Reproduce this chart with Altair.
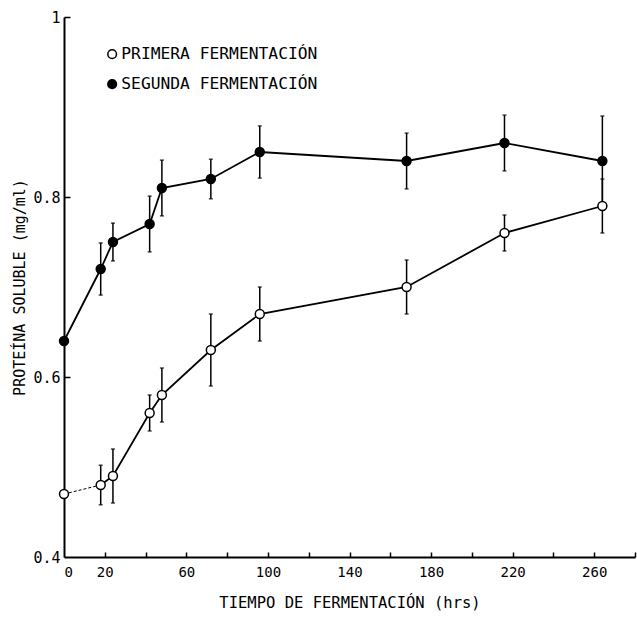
import altair as alt
import pandas as pd

# ---- data ----
tiempo = [0, 18, 24, 42, 48, 72, 96, 168, 216, 264]
primera = [0.47, 0.48, 0.49, 0.56, 0.58, 0.63, 0.67, 0.70, 0.76, 0.79]
primera_err = [0.0, 0.022, 0.03, 0.02, 0.03, 0.04, 0.03, 0.03, 0.02, 0.03]
segunda = [0.64, 0.72, 0.75, 0.77, 0.81, 0.82, 0.85, 0.84, 0.86, 0.84]
segunda_err = [0.0, 0.029, 0.021, 0.031, 0.031, 0.022, 0.029, 0.031, 0.031, 0.05]

series = ["PRIMERA FERMENTACIÓN", "SEGUNDA FERMENTACIÓN"]
x_label_vals = [0, 20, 60, 100, 140, 180, 220, 260]
x_tick_vals = list(range(20, 281, 20))
y_label_vals = [0.4, 0.6, 0.8, 1.0]
y_tick_vals = [0.6, 0.8, 1.0]

rows = []
for t, v, e in zip(tiempo, primera, primera_err):
    rows.append({"t": t, "v": v, "lo": v - e, "hi": v + e, "e": e, "serie": series[0]})
for t, v, e in zip(tiempo, segunda, segunda_err):
    rows.append({"t": t, "v": v, "lo": v - e, "hi": v + e, "e": e, "serie": series[1]})
df = pd.DataFrame(rows)

FONT = "DejaVu Sans Mono"

xscale = alt.Scale(domain=[0, 280], nice=False, zero=False)
yscale = alt.Scale(domain=[0.4, 1.0], nice=False, zero=False)

x_main = alt.X(
    "t:Q", scale=xscale,
    axis=alt.Axis(
        values=x_label_vals, ticks=False, grid=False, domainColor="black", domainWidth=2,
        labelFont=FONT, labelFontSize=14, labelColor="black", labelPadding=8,
        title="TIEMPO DE FERMENTACIÓN (hrs)", titleFont=FONT, titleFontSize=15.5,
        titleFontWeight="normal", titleColor="black", titlePadding=16,
    ),
)
y_main = alt.Y(
    "v:Q", scale=yscale,
    axis=alt.Axis(
        values=y_label_vals, ticks=False, grid=False, domainColor="black", domainWidth=2,
        labelFont=FONT, labelFontSize=15, labelColor="black", labelPadding=4,
        labelExpr="datum.value == 1 ? '1' : format(datum.value, '.1f')",
        title="PROTEÍNA SOLUBLE (mg/ml)", titleFont=FONT, titleFontSize=15,
        titleFontWeight="normal", titleColor="black", titlePadding=5,
    ),
)

x_ticks = alt.X(
    "t:Q", scale=xscale,
    axis=alt.Axis(
        orient="bottom", values=x_tick_vals, offset=-5, domain=False, labels=False,
        ticks=True, tickSize=5, tickColor="black", tickWidth=1.5, grid=False, title=None,
    ),
)
y_ticks = alt.Y(
    "lo:Q", scale=yscale,
    axis=alt.Axis(
        orient="left", values=y_tick_vals, offset=-6, domain=False, labels=False,
        ticks=True, tickSize=6, tickColor="black", tickWidth=1.5, grid=False, title=None,
    ),
)

x_plain = alt.X("t:Q", scale=xscale, axis=None)
y_plain = alt.Y("v:Q", scale=yscale, axis=None)

base = alt.Chart(df)

bars = base.transform_filter("datum.e > 0").mark_rule(color="black", strokeWidth=1.5).encode(
    x=x_ticks, y=y_ticks, y2="hi:Q"
)
cap_lo = base.transform_filter("datum.e > 0").mark_tick(
    color="black", thickness=1.5, size=4, orient="horizontal"
).encode(x=x_plain, y=alt.Y("lo:Q", scale=yscale, axis=None))
cap_hi = base.transform_filter("datum.e > 0").mark_tick(
    color="black", thickness=1.5, size=4, orient="horizontal"
).encode(x=x_plain, y=alt.Y("hi:Q", scale=yscale, axis=None))

line_solid = base.transform_filter(
    f"!(datum.serie == '{series[0]}' && datum.t == 0)"
).mark_line(color="black", strokeWidth=1.8).encode(
    x=x_main, y=y_main, detail="serie:N", order="t:Q"
)
line_dash = base.transform_filter(
    f"datum.serie == '{series[0]}' && datum.t <= 18"
).mark_line(color="black", strokeWidth=1, strokeDash=[3, 2]).encode(
    x=x_plain, y=y_plain, order="t:Q"
)

points = base.mark_point(
    filled=True, stroke="black", strokeWidth=1.5, size=80, opacity=1
).encode(
    x=x_plain, y=y_plain,
    fill=alt.Fill(
        "serie:N",
        scale=alt.Scale(domain=series, range=["white", "black"]),
        legend=alt.Legend(
            title=None, orient="none", legendX=40, legendY=29, padding=0,
            symbolType="circle", symbolSize=75, symbolStrokeColor="black",
            symbolStrokeWidth=1.5, labelFont=FONT, labelFontSize=16.3,
            labelColor="black", labelOffset=1, rowPadding=13, labelLimit=400,
        ),
    ),
)

chart = alt.layer(line_solid, bars, cap_lo, cap_hi, line_dash, points).resolve_axis(
    x="independent", y="independent"
).properties(
    width=571, height=540,
    autosize=alt.AutoSizeParams(type="none"),
    padding={"left": 64, "top": 17, "right": 2, "bottom": 64},
    background="white",
).configure_view(stroke=None)

chart.save("out.html", embed_options={"renderer": "svg", "actions": False})
